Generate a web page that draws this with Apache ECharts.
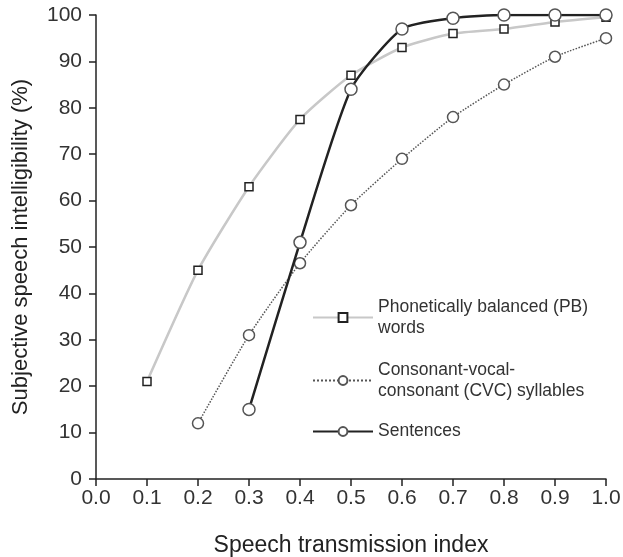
<!DOCTYPE html>
<html>
<head>
<meta charset="utf-8">
<script src="https://cdn.jsdelivr.net/npm/echarts@6/dist/echarts.min.js"></script>
<style>
  html, body { margin: 0; padding: 0; background: #fff; }
  #chart { width: 623px; height: 557px; }
</style>
</head>
<body>
<div id="chart"></div>
<script>
// values
var sti = [0.1, 0.2, 0.3, 0.4, 0.5, 0.6, 0.7, 0.8, 0.9, 1.0];
var pbWords = [21, 45, 63, 77.5, 87, 93, 96, 97, 98.5, 99.5];
var cvcSyllables = [null, 12, 31, 46.5, 59, 69, 78, 85, 91, 95];
var sentences = [null, null, 15, 51, 84, 97, 99.3, 100, 100, 100];

var names = [
  'Phonetically balanced (PB)\nwords',
  'Consonant-vocal-\nconsonant (CVC) syllables',
  'Sentences'
];

function pairs(ys) {
  var out = [];
  for (var i = 0; i < sti.length; i++) {
    if (ys[i] != null) out.push([sti[i], ys[i]]);
  }
  return out;
}

var font = 'Liberation Sans, Arial, sans-serif';
var chart = echarts.init(document.getElementById('chart'));

function legendAt(name, top, multi) {
  return {
    data: [name],
    left: 312,
    top: top,
    orient: 'vertical',
    itemWidth: 60,
    itemHeight: 11,
    itemGap: 0,
    padding: 0,
    selectedMode: false,
    textStyle: {
      fontFamily: font,
      fontSize: 17.5,
      color: '#333',
      lineHeight: 21,
      padding: multi ? [21, 0, 0, 0] : [0, 0, 0, 0]
    }
  };
}

var option = {
  animation: false,
  backgroundColor: '#fff',
  grid: { left: 96, right: 17, top: 15, bottom: 78, outerBoundsMode: 'none', containLabel: false },
  legend: [
    legendAt(names[0], 286, true),
    legendAt(names[1], 349, true),
    legendAt(names[2], 421, false)
  ],
  xAxis: {
    type: 'value',
    min: 0, max: 1, interval: 0.1,
    name: 'Speech transmission index',
    nameLocation: 'middle',
    nameGap: 55,
    nameTextStyle: { fontFamily: font, fontSize: 23, color: '#222' },
    axisLine: { lineStyle: { color: '#222', width: 1.5 } },
    axisTick: { length: 7, lineStyle: { color: '#222', width: 1.5 } },
    axisLabel: {
      fontFamily: font, fontSize: 21, color: '#333', margin: 9,
      formatter: function (v) { return v.toFixed(1); }
    },
    splitLine: { show: false }
  },
  yAxis: {
    type: 'value',
    min: 0, max: 100, interval: 10,
    name: 'Subjective speech intelligibility (%)',
    nameLocation: 'middle',
    nameGap: 64,
    nameTextStyle: { fontFamily: font, fontSize: 22, color: '#222' },
    axisLine: { show: true, lineStyle: { color: '#222', width: 1.5 } },
    axisTick: { show: true, length: 7, lineStyle: { color: '#222', width: 1.5 } },
    axisLabel: { fontFamily: font, fontSize: 21, color: '#333', margin: 14 },
    splitLine: { show: false }
  },
  series: [
    {
      name: names[0],
      type: 'line',
      data: pairs(pbWords),
      smooth: 0.2,
      symbol: 'rect',
      symbolSize: 8,
      lineStyle: { color: '#c8c8c8', width: 2.5 },
      itemStyle: { color: '#fff', borderColor: '#222', borderWidth: 1.5 },
      z: 2
    },
    {
      name: names[1],
      type: 'line',
      data: pairs(cvcSyllables),
      smooth: 0.2,
      symbol: 'circle',
      symbolSize: 11,
      lineStyle: { color: '#555', width: 1.5, type: 'dotted' },
      itemStyle: { color: '#fff', borderColor: '#555', borderWidth: 1.5 },
      z: 3
    },
    {
      name: names[2],
      type: 'line',
      data: pairs(sentences),
      smooth: 0.2,
      symbol: 'circle',
      symbolSize: 12,
      lineStyle: { color: '#222', width: 2.5 },
      itemStyle: { color: '#fff', borderColor: '#555', borderWidth: 1.5 },
      z: 4
    }
  ]
};

chart.setOption(option);
</script>
</body>
</html>
